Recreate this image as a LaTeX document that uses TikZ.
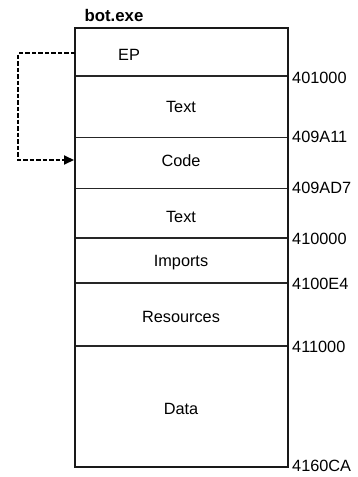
\documentclass[tikz,border=0pt]{standalone}
\usepackage{fontspec}
\setmainfont{Liberation Sans}
\usetikzlibrary{arrows.meta}
\begin{document}
\begin{tikzpicture}[x=1pt,y=-1pt,
  sec/.style={font=\fontsize{16.3}{19}\selectfont, inner sep=0pt},
  addr/.style={font=\fontsize{16.3}{19}\selectfont, anchor=west, inner sep=0pt},
  divthin/.style={line width=1.0pt, draw=black!85},
  divthick/.style={line width=1.6pt, draw=black!85},
  outer/.style={line width=2.8pt, draw=black!90},
  jump/.style={line width=2pt, dashed, dash pattern=on 4.5pt off 2pt, -{Triangle[length=10pt,width=9pt]}}]
\useasboundingbox (0,0) rectangle (357,477);
% title
\node[font=\bfseries\fontsize{16.8}{19}\selectfont, inner sep=0pt] (title) at (114,15) {bot.exe};
% divider coordinates
\coordinate (d0l) at (75,28);  \coordinate (d0r) at (288,28);
\coordinate (d1l) at (75,76);  \coordinate (d1r) at (288,76);
\coordinate (d2l) at (75,137); \coordinate (d2r) at (288,137);
\coordinate (d3l) at (75,188); \coordinate (d3r) at (288,188);
\coordinate (d4l) at (75,238); \coordinate (d4r) at (288,238);
\coordinate (d5l) at (75,283); \coordinate (d5r) at (288,283);
\coordinate (d6l) at (75,346); \coordinate (d6r) at (288,346);
\coordinate (d7l) at (75,467); \coordinate (d7r) at (288,467);
% dividers
\draw[divthick] (d1l) -- (d1r);
\draw[divthin] (d2l) -- (d2r);
\draw[divthin] (d3l) -- (d3r);
\draw[divthick] (d4l) -- (d4r);
\draw[divthick] (d5l) -- (d5r);
\draw[divthick] (d6l) -- (d6r);
% outer box
\draw[outer] (d0l) rectangle (d7r);
% section labels
\node[sec] (ep) at (129,55) {EP};
\node[sec] (text1) at (181,107) {Text};
\node[sec] (code) at (181,161) {Code};
\node[sec] (text2) at (181,217) {Text};
\node[sec] (imports) at (181,263) {Imports};
\node[sec] (res) at (181,317) {Resources};
\node[sec] (data) at (181,409) {Data};
% addresses
\node[addr] (a1) at (292,78) {401000};
\node[addr] (a2) at (292,137) {409A11};
\node[addr] (a3) at (292,188) {409AD7};
\node[addr] (a4) at (292,239) {410000};
\node[addr] (a5) at (292,284) {4100E4};
\node[addr] (a6) at (292,347) {411000};
\node[addr] (a7) at (292,466) {4160CA};
% jump arrow
\coordinate (js) at (75,53);
\coordinate (je) at (74,160);
\draw[jump] (js) -- (18,53) -- (18,160) -- (je);
\end{tikzpicture}
\end{document}
